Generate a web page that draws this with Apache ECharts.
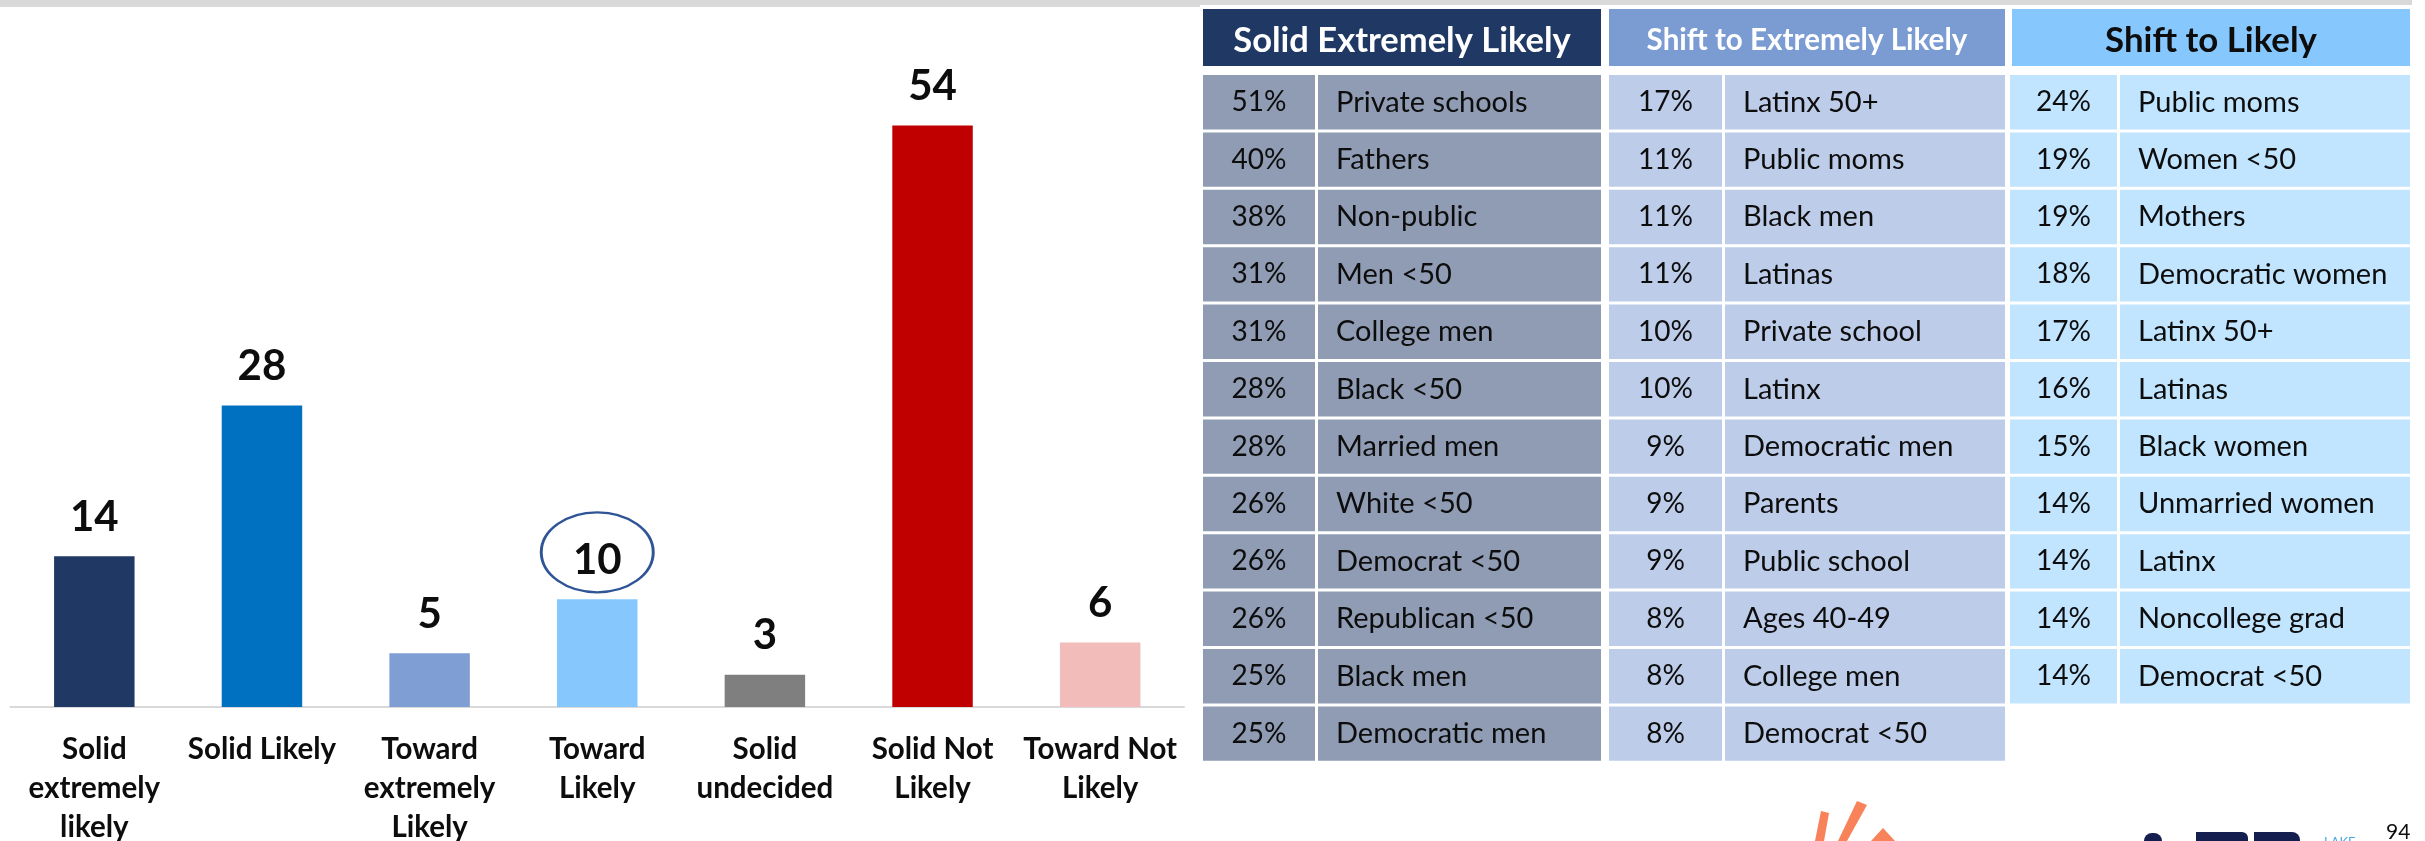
<!DOCTYPE html>
<html><head><meta charset="utf-8">
<script src="https://cdn.jsdelivr.net/npm/echarts@6.0.0/dist/echarts.min.js"></script>
<style>html,body{margin:0;padding:0;background:#fff}#c{width:2425px;height:841px}</style>
</head><body><div id="c"></div>
<script>
// ---- Bar chart data ----
const barCategories = ['Solid\nextremely\nlikely', 'Solid Likely', 'Toward\nextremely\nLikely', 'Toward\nLikely', 'Solid\nundecided', 'Solid Not\nLikely', 'Toward Not\nLikely'];
const barValues = [14, 28, 5, 10, 3, 54, 6];
const highlightedIndex = 3;

// ---- Table data ----
const tableHeaders = ['Solid Extremely Likely', 'Shift to Extremely Likely', 'Shift to Likely'];
const solidExtremelyPct = ['51%', '40%', '38%', '31%', '31%', '28%', '28%', '26%', '26%', '26%', '25%', '25%'];
const solidExtremelyGroups = ['Private schools', 'Fathers', 'Non-public', 'Men <50', 'College men', 'Black <50', 'Married men', 'White <50', 'Democrat <50', 'Republican <50', 'Black men', 'Democratic men'];
const shiftExtremelyPct = ['17%', '11%', '11%', '11%', '10%', '10%', '9%', '9%', '9%', '8%', '8%', '8%'];
const shiftExtremelyGroups = ['Latinx 50+', 'Public moms', 'Black men', 'Latinas', 'Private school', 'Latinx', 'Democratic men', 'Parents', 'Public school', 'Ages 40-49', 'College men', 'Democrat <50'];
const shiftLikelyPct = ['24%', '19%', '19%', '18%', '17%', '16%', '15%', '14%', '14%', '14%', '14%'];
const shiftLikelyGroups = ['Public moms', 'Women <50', 'Mothers', 'Democratic women', 'Latinx 50+', 'Latinas', 'Black women', 'Unmarried women', 'Latinx', 'Noncollege grad', 'Democrat <50'];
const pageNumber = '94';

// ---- Styles ----
const barColors = ['#203864', '#0070C0', '#7F9ED4', '#86C8FD', '#7F7F7F', '#C00000', '#F2BCBB'];
const FONT = 'Lato, "Noto Sans", sans-serif';
const TXT = '#0D0D0D';
const ROWS = 12;

const chart = echarts.init(document.getElementById('c'), null, {renderer: 'canvas'});

const grids = [];
const xAxes = [];
const yAxes = [];
const series = [];

// Grid 0: bar chart
grids.push({left: 10.5, width: 1173.5, top: 61, bottom: 134, containLabel: false, outerBoundsMode: 'none'});
xAxes.push({
  type: 'category', gridIndex: 0, data: barCategories,
  axisLine: {show: true, lineStyle: {color: '#D9D9D9', width: 2}},
  axisTick: {show: false},
  axisLabel: {interval: 0, margin: 23, color: TXT, fontFamily: FONT, fontWeight: 'bold', fontSize: 29.5, lineHeight: 39}
});
yAxes.push({type: 'value', gridIndex: 0, min: 0, max: 60, show: false, splitLine: {show: false}});
series.push({
  type: 'bar', xAxisIndex: 0, yAxisIndex: 0, barWidth: '48%',
  data: barValues.map((v, i) => ({value: v, itemStyle: {color: barColors[i]}})),
  label: {show: true, position: 'top', distance: 18, color: TXT, fontFamily: FONT, fontWeight: 'bold', fontSize: 42},
  markPoint: {
    silent: true,
    data: [{
      coord: [highlightedIndex, barValues[highlightedIndex]],
      symbol: 'circle', symbolSize: [112, 80], symbolOffset: [0, -47],
      itemStyle: {color: 'rgba(0,0,0,0)', borderColor: '#2F5597', borderWidth: 2.5},
      label: {show: false}
    }]
  }
});

function addCellGrid(box, rowCount, texts, fill, opts) {
  const gi = grids.length;
  grids.push({left: box.left, width: box.width, top: box.top, height: box.height, containLabel: false, outerBoundsMode: 'none'});
  xAxes.push({type: 'category', gridIndex: gi, data: ['c'], show: false});
  const rows = [];
  for (let i = 0; i < rowCount; i++) rows.push(String(i));
  yAxes.push({type: 'category', gridIndex: gi, data: rows, inverse: true, show: false});
  series.push({
    type: 'custom', xAxisIndex: gi, yAxisIndex: gi, silent: true, clip: false,
    data: texts.map((t, i) => [0, i]),
    renderItem: function (params, api) {
      const c = api.coord([0, api.value(1)]);
      const s = api.size([1, 1]);
      const x0 = c[0] - s[0] / 2 + 1.5, y0 = c[1] - s[1] / 2 + 1.5;
      const w = s[0] - 3, h = s[1] - 3;
      const t = texts[params.dataIndex];
      const tx = opts.align === 'center' ? x0 + w / 2 : x0 + opts.pad;
      return {
        type: 'group',
        children: [
          {type: 'rect', shape: {x: x0, y: y0, width: w, height: h}, style: {fill: fill}},
          {type: 'text', style: {
            text: t, x: tx, y: y0 + h / 2 + (opts.dy || 0),
            align: opts.align, textAlign: opts.align,
            verticalAlign: 'middle', textVerticalAlign: 'middle',
            font: opts.font, fill: opts.color
          }}
        ]
      };
    }
  });
}

const rowTop = 73.5, rowH = 688.8, hdrTop = 7.5, hdrH = 60;
const groupDefs = [
  {hdr: [1201.5, 401], pct: [1201.5, 115], name: [1316.5, 286], hFill: '#203864', hColor: '#FFFFFF', hSize: 34.5, body: '#8F9CB4', pcts: solidExtremelyPct, names: solidExtremelyGroups},
  {hdr: [1607.5, 399], pct: [1607.5, 116], name: [1723.5, 283], hFill: '#7B9BD3', hColor: '#FFFFFF', hSize: 29.6, body: '#BDCCE9', pcts: shiftExtremelyPct, names: shiftExtremelyGroups},
  {hdr: [2010.5, 401], pct: [2008.5, 110], name: [2118.5, 293], hFill: '#86C8FD', hColor: '#0D0D0D', hSize: 34.8, body: '#C1E4FF', pcts: shiftLikelyPct, names: shiftLikelyGroups}
];
groupDefs.forEach((g, k) => {
  addCellGrid({left: g.hdr[0], width: g.hdr[1], top: hdrTop, height: hdrH}, 1, [tableHeaders[k]], g.hFill,
    {align: 'center', dy: 3, font: 'bold ' + g.hSize + 'px ' + FONT, color: g.hColor});
  addCellGrid({left: g.pct[0], width: g.pct[1], top: rowTop, height: rowH}, ROWS, g.pcts, g.body,
    {align: 'center', font: '28px ' + FONT, color: TXT});
  addCellGrid({left: g.name[0], width: g.name[1], top: rowTop, height: rowH}, ROWS, g.names, g.body,
    {align: 'left', pad: 18, font: '29px ' + FONT, color: TXT});
});

const option = {
  animation: false,
  backgroundColor: '#FFFFFF',
  grid: grids, xAxis: xAxes, yAxis: yAxes, series: series,
  graphic: [
    {type: 'rect', shape: {x: 0, y: 0, width: 1200, height: 7}, style: {fill: '#D9D9D9'}, silent: true},
    {type: 'rect', shape: {x: 1200, y: 0, width: 1212, height: 5}, style: {fill: '#D9D9D9'}, silent: true},
    // partial logo at bottom (decoration, cut off by slide edge)
    {type: 'polygon', shape: {points: [[1821, 811], [1829, 813], [1824, 841], [1815, 841]]}, style: {fill: '#F8825A'}, silent: true},
    {type: 'polygon', shape: {points: [[1857, 801], [1867, 805], [1847, 841], [1838, 841]]}, style: {fill: '#F8825A'}, silent: true},
    {type: 'polygon', shape: {points: [[1883, 828], [1895, 841], [1871, 841]]}, style: {fill: '#F8825A'}, silent: true},
    {type: 'rect', shape: {x: 2144, y: 833, width: 18, height: 10, r: [8, 8, 0, 0]}, style: {fill: '#141E4F'}, silent: true},
    {type: 'rect', shape: {x: 2196, y: 832, width: 52, height: 10, r: [0, 6, 0, 0]}, style: {fill: '#141E4F'}, silent: true},
    {type: 'rect', shape: {x: 2254, y: 832, width: 46, height: 10, r: [0, 8, 0, 0]}, style: {fill: '#141E4F'}, silent: true},
    {type: 'text', style: {text: 'LAKE', x: 2324, y: 836, font: '13px ' + FONT, fill: '#4DA8E0'}, silent: true},
    {type: 'text', style: {text: pageNumber, x: 2386, y: 822, font: '21px ' + FONT, fill: '#0D0D0D'}, silent: true}
  ]
};
chart.setOption(option);
</script>
</body></html>
